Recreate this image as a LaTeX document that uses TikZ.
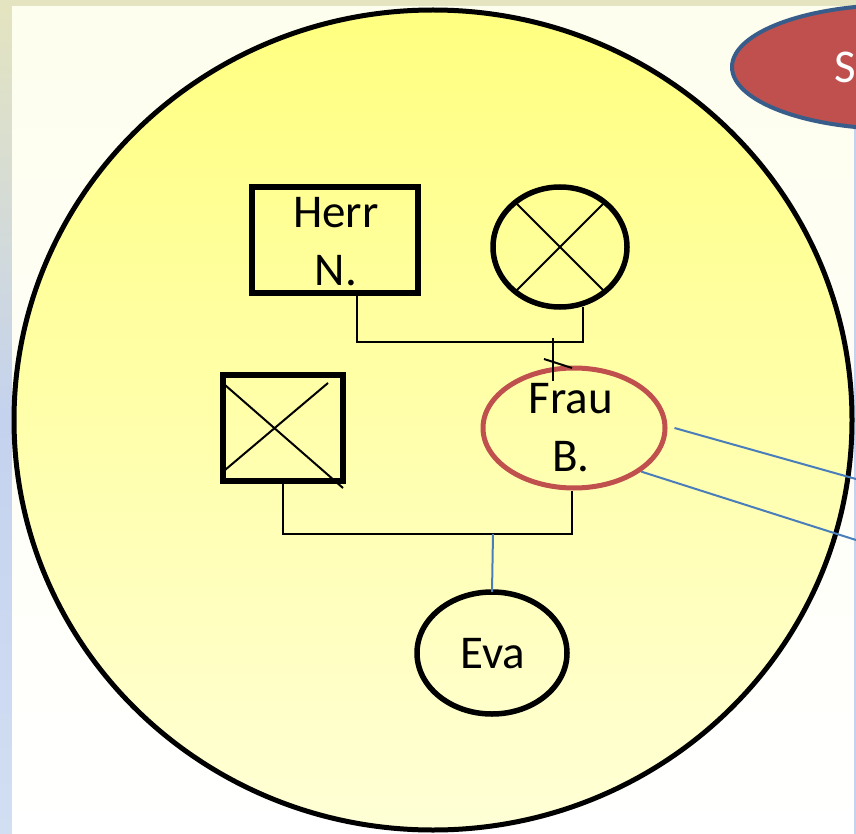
\documentclass[tikz,border=0pt]{standalone}
\usepackage{fontspec}
\setmainfont{Carlito}
\usetikzlibrary{shapes.geometric}
\definecolor{olivebg}{RGB}{228,228,192}
\definecolor{bluebg}{RGB}{196,210,238}
\definecolor{bluebgb}{RGB}{210,222,242}
\definecolor{paneltop}{RGB}{254,254,238}
\definecolor{circtop}{RGB}{255,255,128}
\definecolor{circbot}{RGB}{255,255,214}
\definecolor{sred}{RGB}{192,80,77}
\definecolor{sblue}{RGB}{56,93,138}
\definecolor{lineblue}{RGB}{74,126,187}
\begin{document}
\begin{tikzpicture}[x=1pt,y=-1pt,
  lbl/.style={font=\fontsize{47}{58}\selectfont, align=center, inner sep=0pt},
  thickshape/.style={draw=black, line width=5.5pt, inner sep=0pt, outer sep=0pt},
  kinline/.style={draw=black, line width=2pt},
  bline/.style={draw=lineblue, line width=2pt}]
\useasboundingbox (0,0) rectangle (856,834);
% background
\fill[olivebg] (0,0) rectangle (856,7);
\shade[top color=olivebg, bottom color=bluebg] (0,7) rectangle (12,420);
\shade[top color=bluebg, bottom color=bluebgb] (0,420) rectangle (12,834);
\shade[top color=paneltop, bottom color=white] (12,7) rectangle (856,834);
\fill[bluebg] (854,123) rectangle (856,834);
% big circle
\node[ellipse, draw=black, line width=5pt, top color=circtop, bottom color=circbot,
      minimum width=838pt, minimum height=820pt, inner sep=0pt] (big) at (433,420) {};
% red ellipse top right
\node[ellipse, draw=sblue, line width=4pt, fill=sred, minimum width=330pt,
      minimum height=124pt, inner sep=0pt] (sell) at (897,67) {};
\node[lbl, text=white, anchor=base west] (stext) at (834,83) {S};
% Herr N.
\node[thickshape, rectangle, minimum width=166pt, minimum height=106pt] (herr) at (335,240) {};
\node[lbl] (herrlbl) at (336,242) {Herr\\N.};
% crossed circle
\node[thickshape, ellipse, minimum width=134pt, minimum height=120pt] (xc) at (560,247) {};
\draw[kinline] (xc.45) -- (xc.-135);
\draw[kinline] (xc.135) -- (xc.-45);
% crossed square
\node[thickshape, rectangle, minimum width=120pt, minimum height=106pt] (sq) at (283,428) {};
\coordinate (q1) at (225,385);
\coordinate (q2) at (343,488);
\coordinate (q3) at (225,470);
\coordinate (q4) at (328,383);
\draw[kinline] (q1) -- (q2);
\draw[kinline] (q3) -- (q4);
% Frau B.
\node[ellipse, draw=sred, line width=5pt, inner sep=0pt, minimum width=182pt,
      minimum height=120pt] (frau) at (574,428) {};
\node[lbl] (fraulbl) at (571,428) {Frau\\B.};
% Eva
\node[thickshape, ellipse, minimum width=150pt, minimum height=122pt] (eva) at (492,653) {};
\node[lbl] (evalbl) at (493,654) {Eva};
% connectors
\coordinate (m1) at (357,342);
\coordinate (m2) at (583,342);
\draw[kinline] ([xshift=22pt]herr.south) -- (m1) -- (m2) -- ([xshift=23pt]xc.south);
\coordinate (d1) at (553,338);
\draw[kinline] (d1) -- ([xshift=-21pt,yshift=-15pt]frau.north);
\coordinate (t1) at (544,359);
\coordinate (t2) at (572,368);
\draw[kinline] (t1) -- (t2);
\coordinate (m3) at (283,534);
\coordinate (m4) at (572,534);
\draw[kinline] (sq.south) -- (m3) -- (m4) -- ([xshift=-2pt]frau.south);
\coordinate (m5) at (493,534);
\draw[bline] (m5) -- (eva.north);
\coordinate (r1) at (856,479);
\coordinate (r2) at (856,540);
\draw[bline] ([xshift=7pt]frau.east) -- (r1);
\draw[bline] (frau.-33) -- (r2);
\end{tikzpicture}
\end{document}
